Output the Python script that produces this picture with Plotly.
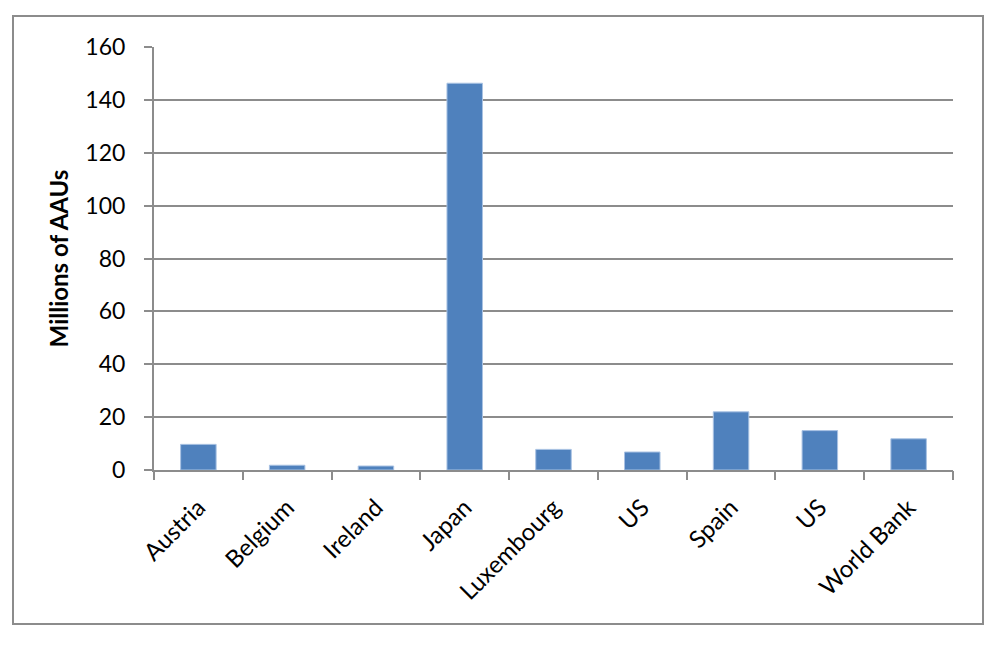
import plotly.graph_objects as go

categories = ["Austria", "Belgium", "Ireland", "Japan", "Luxembourg", "US", "Spain", "US", "World Bank"]
values = [9.7, 1.8, 1.5, 146.3, 7.8, 6.8, 22.0, 14.9, 11.8]
y_ticks = [0, 20, 40, 60, 80, 100, 120, 140, 160]

positions = list(range(len(categories)))
boundaries = [p - 0.5 for p in positions] + [positions[-1] + 0.5]

FONT = "Lato, Calibri, Carlito, sans-serif"
GRID = "#8c8c8c"

fig = go.Figure()
fig.add_trace(go.Bar(
    x=positions, y=values,
    marker=dict(color="#4F81BD", line=dict(color="#a9c2e3", width=1)),
    width=0.4,
    showlegend=False,
))
# invisible trace to attach boundary tick axis
fig.add_trace(go.Scatter(x=[boundaries[0], boundaries[-1]], y=[0, 0], xaxis="x2",
                         mode="lines", line=dict(width=0), hoverinfo="skip", showlegend=False))

# page has an 8px body offset; margins are in figure coords
L, R, T, B = 146, 55, 39, 183
W, H = 1000, 645
fig.update_layout(
    width=W, height=H,
    margin=dict(l=L, r=R, t=T, b=B),
    paper_bgcolor="white", plot_bgcolor="white",
    font=dict(family=FONT, size=23, color="#000000"),
    xaxis=dict(
        range=[boundaries[0], boundaries[-1]],
        tickvals=positions, ticktext=categories, tickangle=-45,
        ticks="", showgrid=False, zeroline=False,
        showline=True, linecolor=GRID, linewidth=2,
        tickfont=dict(family=FONT, size=24),
        ticklabelstandoff=12,
    ),
    xaxis2=dict(
        range=[boundaries[0], boundaries[-1]],
        overlaying="x", side="bottom", anchor="y",
        tickvals=boundaries, ticktext=[""] * len(boundaries),
        ticks="outside", ticklen=9, tickwidth=2, tickcolor=GRID,
        showgrid=False, zeroline=False, showline=False,
    ),
    yaxis=dict(
        range=[0, 160], tickvals=y_ticks,
        ticks="outside", ticklen=8, tickwidth=2, tickcolor=GRID,
        showgrid=True, gridcolor=GRID, gridwidth=2,
        zeroline=False, showline=True, linecolor=GRID, linewidth=2,
        tickfont=dict(family=FONT, size=23),
        ticklabelstandoff=14,
        title=dict(text="<b>Millions of AAUs</b>", font=dict(family=FONT, size=24), standoff=10),
    ),
    shapes=[dict(
        type="rect", xref="paper", yref="paper",
        x0=(5 - L) / (W - L - R), x1=(975 - L) / (W - L - R),
        y0=(H - B - 616) / (H - T - B), y1=(H - B - 8) / (H - T - B),
        line=dict(color="#8c8c8c", width=2), fillcolor="rgba(0,0,0,0)", layer="below",
    )],
)

fig.write_html("out.html")
